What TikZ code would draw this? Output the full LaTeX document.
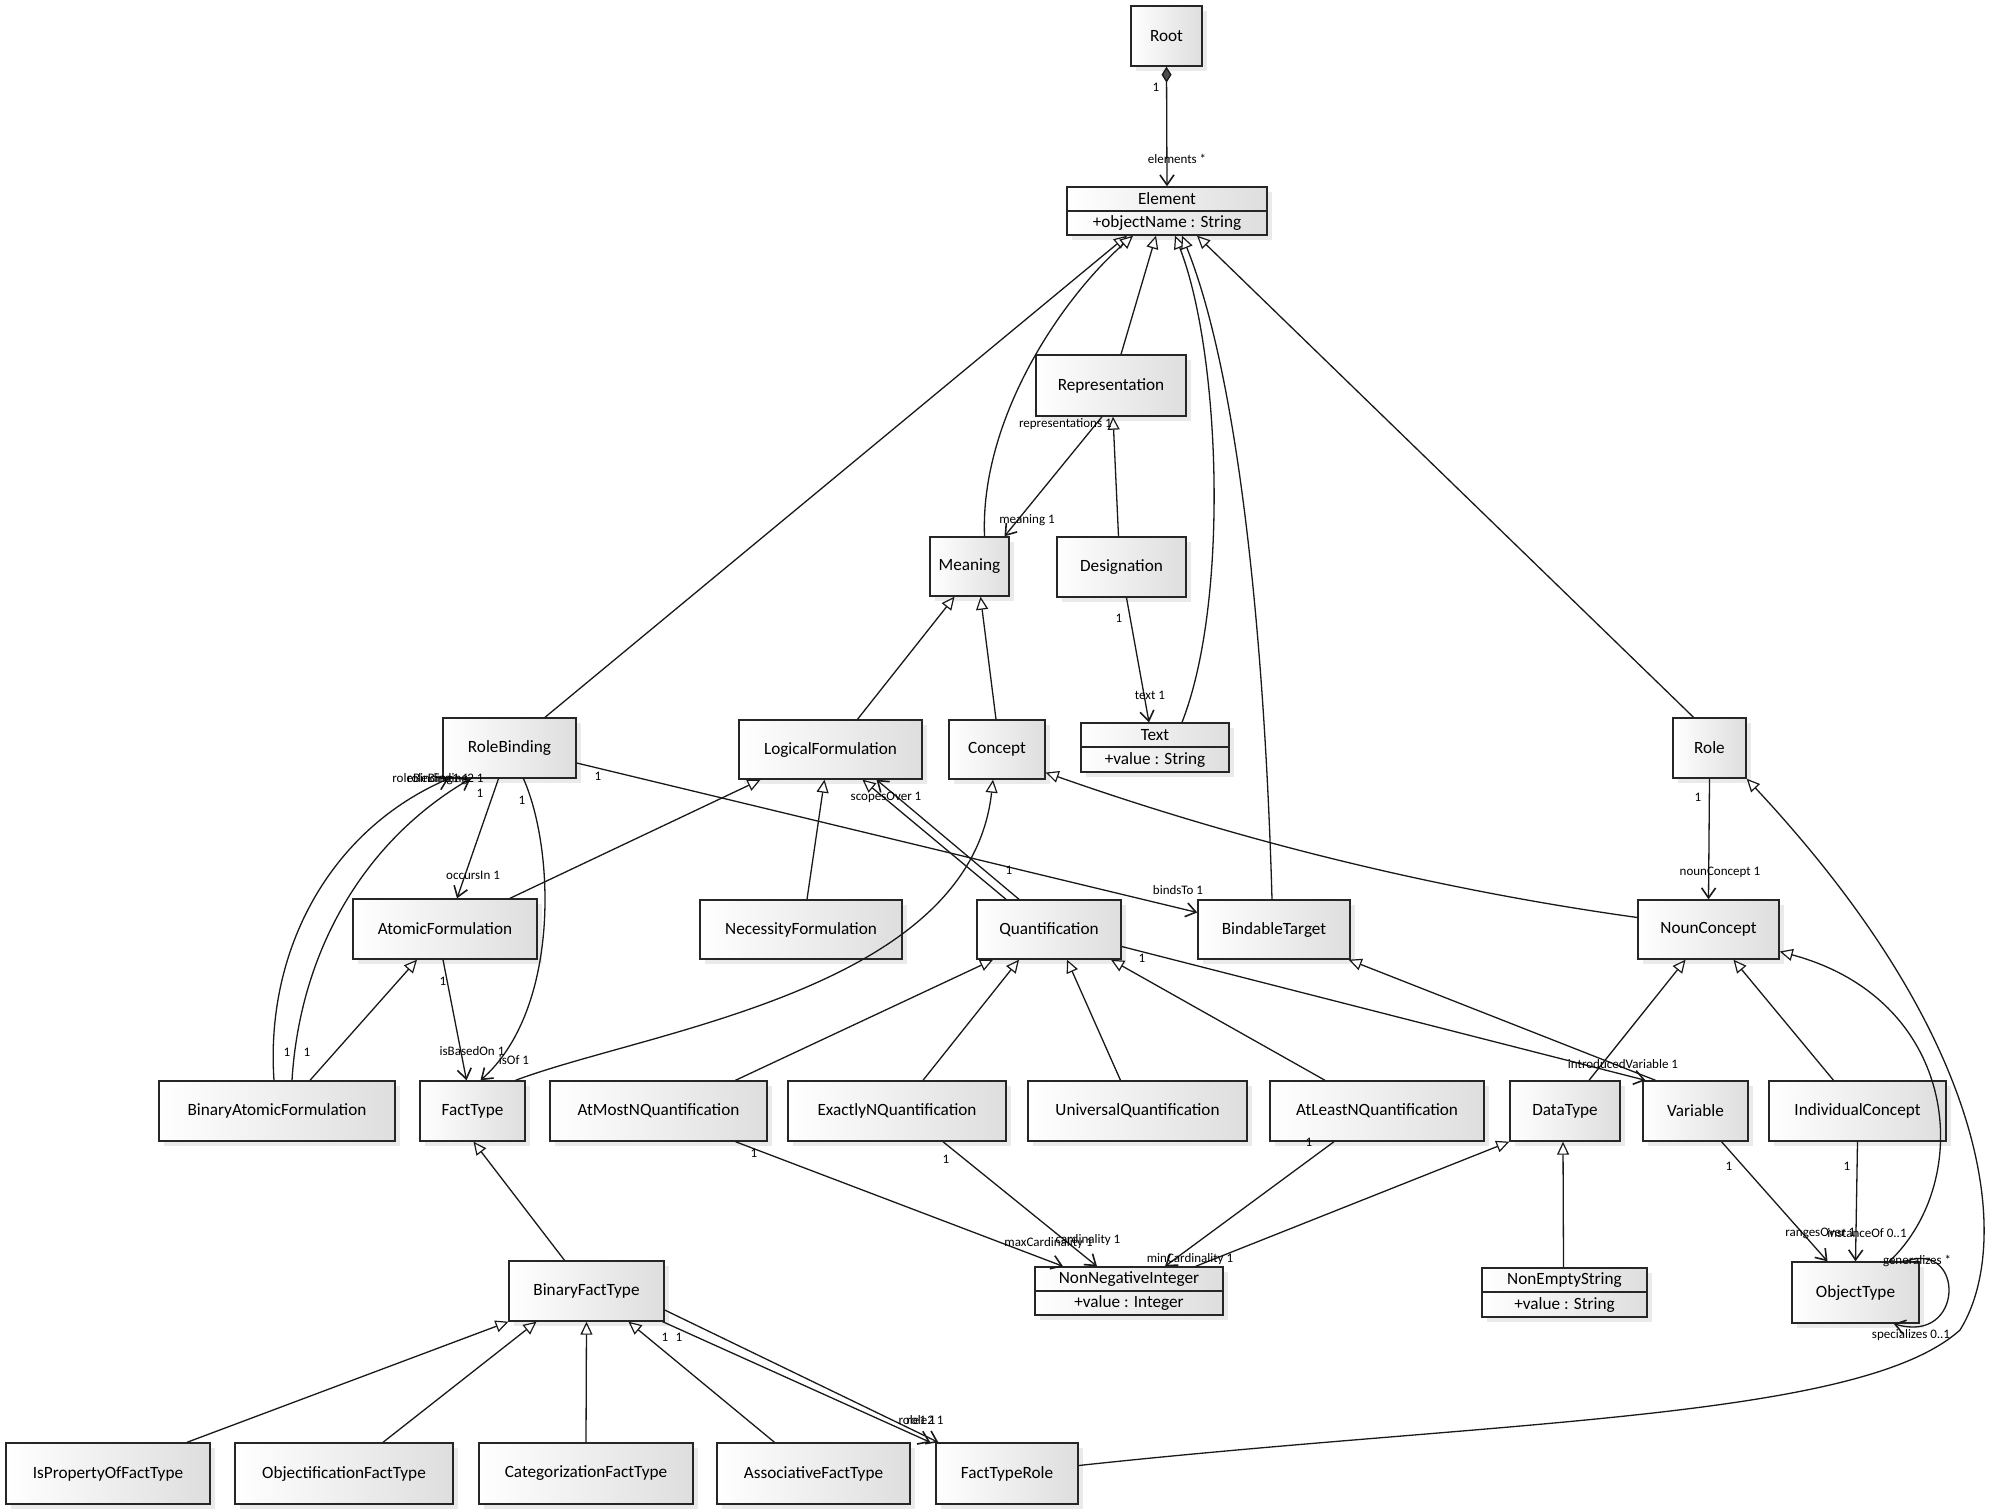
\documentclass[tikz,border=0pt]{standalone}
\usepackage{fontspec}
\setmainfont{Carlito}
\usetikzlibrary{arrows.meta,calc,shadows}

\tikzset{
  cls/.style={draw=black!85, line width=0.7pt, left color=white, right color=black!13,
    drop shadow={opacity=0.16, shadow xshift=2.5pt, shadow yshift=-2.5pt},
    inner sep=0pt, font=\fontsize{8.6}{10}\selectfont, text=black},
  lbl/.style={inner sep=0pt, font=\fontsize{6.5}{7}\selectfont},
  link/.style={draw=black!90, line width=0.65pt},
  assoc/.style={link, -{Straight Barb[length=5pt,width=7pt,line width=0.8pt]}},
  gen/.style={link, -{Triangle[fill=white,length=6.5pt,width=6pt,line width=0.6pt]}},
  comp/.style={link, {Diamond[length=8pt,width=5pt,fill=black!70]}-{Straight Barb[length=5pt,width=7pt,line width=0.8pt]}},
}

% class box given by its corners (in pixel units)
\newcommand\umlclass[6]{%
  \node[cls, minimum width={(#4-#2)*0.5pt}, minimum height={(#5-#3)*0.5pt}]
    (#1) at ({(#2+#4)/2},{(#3+#5)/2}) {#6};}

\begin{document}
\begin{tikzpicture}[x=0.5pt,y=-0.5pt]
\fill[white] (0,0) rectangle (1997,1509);
\useasboundingbox (0,0) rectangle (1997,1509);

% ---- classes ----
\umlclass{root}{1131}{6}{1202}{66}{Root}
\umlclass{elem}{1067}{187}{1267}{211}{Element}
\umlclass{elemattr}{1067}{211}{1267}{235}{+objectName : String}
\umlclass{rep}{1036}{355}{1186}{416}{Representation}
\umlclass{meaning}{930}{537}{1009}{596}{Meaning}
\umlclass{desig}{1057}{537}{1186}{597}{Designation}
\umlclass{text}{1081}{723}{1229}{747}{Text}
\umlclass{textattr}{1081}{747}{1229}{772}{+value : String}
\umlclass{rb}{443}{718}{576}{778}{RoleBinding}
\umlclass{lf}{739}{720}{922}{779}{LogicalFormulation}
\umlclass{concept}{949}{720}{1045}{779}{Concept}
\umlclass{role}{1673}{718}{1746}{778}{Role}
\umlclass{af}{353}{899}{537}{959}{AtomicFormulation}
\umlclass{nf}{700}{900}{902}{959}{NecessityFormulation}
\umlclass{q}{977}{900}{1121}{959}{Quantification}
\umlclass{bt}{1198}{900}{1350}{959}{BindableTarget}
\umlclass{nc}{1638}{900}{1779}{959}{NounConcept}
\umlclass{baf}{159}{1081}{395}{1141}{BinaryAtomicFormulation}
\umlclass{ft}{420}{1081}{525}{1141}{FactType}
\umlclass{atmost}{550}{1081}{767}{1141}{AtMostNQuantification}
\umlclass{exactly}{788}{1081}{1006}{1141}{ExactlyNQuantification}
\umlclass{univ}{1028}{1081}{1247}{1141}{UniversalQuantification}
\umlclass{atleast}{1270}{1081}{1484}{1141}{AtLeastNQuantification}
\umlclass{dt}{1510}{1081}{1620}{1141}{DataType}
\umlclass{var}{1643}{1081}{1748}{1141}{Variable}
\umlclass{ic}{1769}{1081}{1946}{1141}{IndividualConcept}
\umlclass{bft}{509}{1261}{664}{1321}{BinaryFactType}
\umlclass{nni}{1035}{1267}{1223}{1291}{NonNegativeInteger}
\umlclass{nniattr}{1035}{1291}{1223}{1315}{+value : Integer}
\umlclass{nes}{1482}{1268}{1647}{1292}{NonEmptyString}
\umlclass{nesattr}{1482}{1292}{1647}{1317}{+value : String}
\umlclass{ot}{1792}{1262}{1919}{1323}{ObjectType}
\umlclass{isprop}{6}{1443}{210}{1504}{IsPropertyOfFactType}
\umlclass{objf}{235}{1443}{453}{1504}{ObjectificationFactType}
\umlclass{categ}{479}{1443}{693}{1504}{CategorizationFactType}
\umlclass{assocft}{717}{1443}{910}{1504}{AssociativeFactType}
\umlclass{ftr}{936}{1443}{1078}{1504}{FactTypeRole}

% ---- composition ----
\draw[comp] (root.south) -- (elem.north);

% ---- generalizations to Element ----
\draw[gen] ($(rb.north)+(35.5,0)$) -- ($(elemattr.south)+(-40,0)$);
\draw[gen] ($(meaning.north)+(15,0)$) .. controls (980,420) and (1060,300) .. ($(elemattr.south)+(-34,0)$);
\draw[gen] ($(rep.north)+(10,0)$) -- ($(elemattr.south)+(-11,0)$);
\draw[gen] ($(text.north)+(27,0)$) .. controls (1230,600) and (1220,350) .. ($(elemattr.south)+(8,0)$);
\draw[gen] ($(bt.north)+(-2,0)$) .. controls (1265,650) and (1240,380) .. ($(elemattr.south)+(15,0)$);
\draw[gen] ($(role.north)+(-16,0)$) -- ($(elemattr.south)+(30,0)$);

% ---- upper part ----
\draw[assoc] ($(rep.south)+(-9,0)$) -- ($(meaning.north)+(35,0)$);
\draw[gen] ($(desig.north)+(-3,0)$) -- ($(rep.south)+(2,0)$);
\draw[assoc] ($(desig.south)+(5,0)$) -- ($(text.north)+(-6,0)$);
\draw[gen] ($(lf.north)+(27,0)$) -- ($(meaning.south)+(-15,0)$);
\draw[gen] ($(concept.north)+(-1,0)$) -- ($(meaning.south)+(11,0)$);

% ---- formulations ----
\draw[assoc] ($(rb.south)+(-11,0)$) -- ($(af.north)+(12,0)$);
\draw[assoc] ($(rb.south)+(14,0)$) .. controls (555,850) and (560,1010) .. ($(ft.north)+(8,0)$);
\draw[assoc] ($(baf.north)+(-3,0)$) .. controls (265,950) and (330,830) .. ($(rb.south)+(-61,0)$);
\draw[assoc] ($(baf.north)+(15,0)$) .. controls (300,950) and (365,840) .. ($(rb.south)+(-39,0)$);
\draw[gen] ($(baf.north)+(33,0)$) -- ($(af.south)+(-28,0)$);
\draw[gen] ($(af.north)+(65,0)$) -- ($(lf.south)+(-70,0)$);
\draw[assoc] ($(af.south)+(-2,0)$) -- ($(ft.north)+(-6,0)$);
\draw[assoc] ($(rb.east)+(0,15)$) -- ($(bt.west)+(0,-17)$);
\draw[gen] ($(nf.north)+(6,0)$) -- ($(lf.south)+(-6,0)$);
\draw[gen] ($(q.north)+(-43,0)$) -- ($(lf.south)+(32,0)$);
\draw[assoc] ($(q.north)+(-30,0)$) -- ($(lf.south)+(46,0)$);
\draw[gen] ($(ft.north)+(43,0)$) .. controls (650,1030) and (970,990) .. ($(concept.south)+(-4,0)$);
\draw[gen] ($(nc.west)+(0,-12)$) .. controls (1440,890) and (1243,842) .. ($(concept.east)+(0,23)$);
\draw[assoc] (role.south) -- (nc.north);
\draw[assoc] ($(q.east)+(0,17)$) -- ($(var.north)+(-50,0)$);
\draw[gen] ($(var.north)+(-40,0)$) -- ($(bt.south east)+(-2,0)$);

% ---- quantifications ----
\draw[gen] ($(atmost.north)+(77,0)$) -- ($(q.south)+(-56,0)$);
\draw[gen] ($(exactly.north)+(26,0)$) -- ($(q.south)+(-30,0)$);
\draw[gen] ($(univ.north)+(-17,0)$) -- ($(q.south)+(18,0)$);
\draw[gen] ($(atleast.north)+(-52,0)$) -- ($(q.south)+(62,0)$);
\draw[assoc] ($(atmost.south)+(77,0)$) -- ($(nni.north)+(-66,0)$);
\draw[assoc] ($(exactly.south)+(46,0)$) -- ($(nni.north)+(-32,0)$);
\draw[assoc] ($(atleast.south)+(-43,0)$) -- ($(nni.north)+(36,0)$);

% ---- concepts and types ----
\draw[gen] ($(dt.north)+(24,0)$) -- ($(nc.south)+(-23,0)$);
\draw[gen] ($(ic.north)+(-24,0)$) -- ($(nc.south)+(25,0)$);
\draw[gen] ($(ot.north)+(34,0)$) .. controls (1975,1180) and (1960,1000) .. ($(nc.east)+(0,22)$);
\draw[gen] ($(nni.north east)+(-28,0)$) -- (dt.south west);
\draw[gen] ($(nes.north)+(-1,0)$) -- ($(dt.south)+(-2,0)$);
\draw[assoc] ($(var.south)+(26,0)$) -- ($(ot.north)+(-28,0)$);
\draw[assoc] (ic.south) -- (ot.north);
\draw[assoc] ($(ot.north east)+(-14,0)$) .. controls (1965,1240) and (1965,1345) .. ($(ot.south east)+(-26,0)$);
\draw[gen] ($(ftr.east)+(0,-8)$) .. controls (1500,1420) and (1860,1420) .. (1960,1330)
  .. controls (2010,1250) and (2000,1050) .. (role.south east);

% ---- fact types ----
\draw[gen] ($(bft.north)+(-22,0)$) -- ($(ft.south)+(1,0)$);
\draw[gen] ($(isprop.north)+(79,0)$) -- ($(bft.south)+(-78,0)$);
\draw[gen] ($(objf.north)+(39,0)$) -- ($(bft.south)+(-50,0)$);
\draw[gen] (categ.north) -- (bft.south);
\draw[gen] ($(assocft.north)+(-39,0)$) -- ($(bft.south)+(42,0)$);
\draw[assoc] ($(bft.south east)+(-2,0)$) -- ($(ftr.north west)+(-5,0)$);
\draw[assoc] ($(bft.east)+(0,19)$) -- ($(ftr.north west)+(3,0)$);

% ---- end labels ----
\node[lbl] (m1) at (1156,87) {1};
\node[lbl] (m2) at (1177,159) {elements *};
\node[lbl, anchor=east] (m3) at (1112,424) {representations 1};
\node[lbl] (m4) at (1027,520) {meaning 1};
\node[lbl] (m5) at (1119,618) {1};
\node[lbl] (m6) at (1150,695) {text 1};
\node[lbl, anchor=west] (m7) at (392,779) {roleBinding1 1};
\node[lbl, anchor=east] (m8) at (484,779) {roleBinding2 1};
\node[lbl] (m9) at (480,793) {1};
\node[lbl] (m10) at (473,875) {occursIn 1};
\node[lbl] (m11) at (522,800) {1};
\node[lbl] (m12) at (443,981) {1};
\node[lbl] (m13) at (472,1051) {isBasedOn 1};
\node[lbl] (m14) at (514,1060) {isOf 1};
\node[lbl] (m15) at (287,1052) {1};
\node[lbl] (m16) at (307,1052) {1};
\node[lbl] (m17) at (598,776) {1};
\node[lbl] (m18) at (1178,890) {bindsTo 1};
\node[lbl] (m19) at (886,797) {scopesOver 1};
\node[lbl] (m20) at (1009,870) {1};
\node[lbl] (m21) at (1698,797) {1};
\node[lbl] (m22) at (1720,872) {nounConcept 1};
\node[lbl] (m23) at (1142,958) {1};
\node[lbl] (m24) at (1623,1064) {introducedVariable 1};
\node[lbl] (m25) at (754,1153) {1};
\node[lbl, anchor=west] (m26) at (1004,1243) {maxCardinality 1};
\node[lbl] (m27) at (946,1159) {1};
\node[lbl] (m28) at (1088,1240) {cardinality 1};
\node[lbl] (m29) at (1309,1142) {1};
\node[lbl] (m30) at (1190,1259) {minCardinality 1};
\node[lbl] (m31) at (1729,1166) {1};
\node[lbl] (m32) at (1847,1166) {1};
\node[lbl, anchor=west] (m33) at (1785,1233) {rangesOver 1};
\node[lbl, anchor=east] (m34) at (1907,1233) {instanceOf 0..1};
\node[lbl] (m35) at (1917,1261) {generalizes *};
\node[lbl] (m36) at (1911,1335) {specializes 0..1};
\node[lbl] (m37) at (665,1337) {1};
\node[lbl] (m38) at (679,1337) {1};
\node[lbl] (m39) at (917,1420) {role1 1};
\node[lbl] (m40) at (925,1420) {role2 1};
\end{tikzpicture}
\end{document}
